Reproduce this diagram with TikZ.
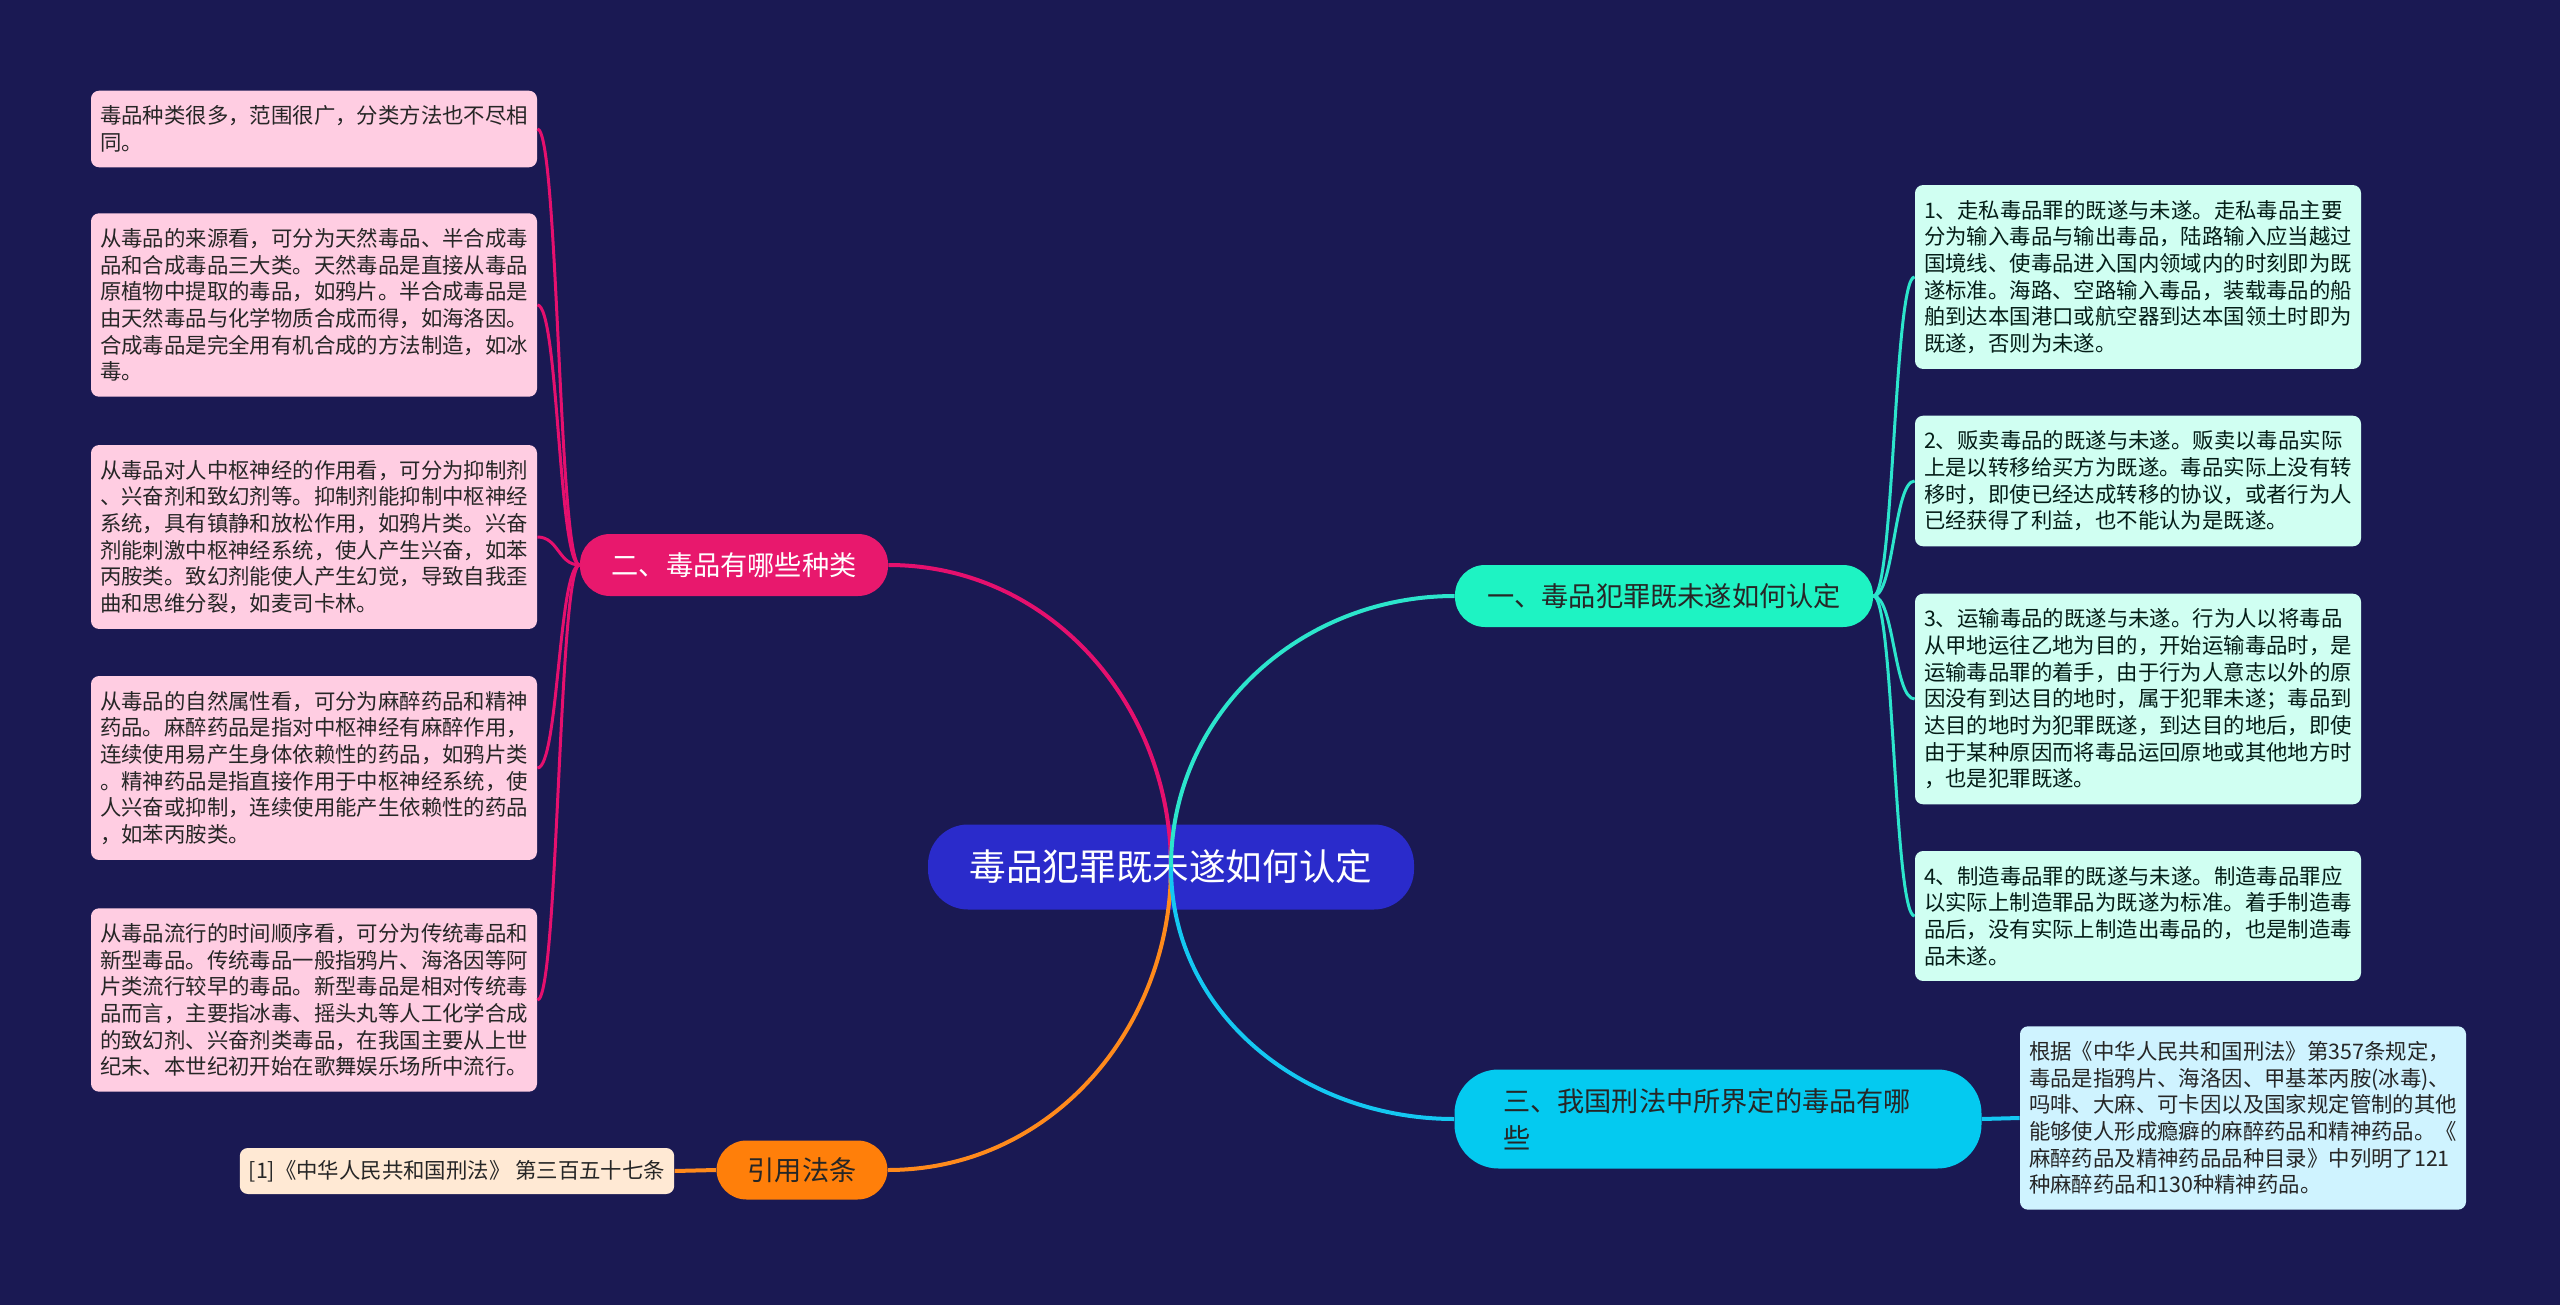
\documentclass[tikz,border=0pt]{standalone}
\usepackage{fontspec}
\setmainfont{Noto Sans CJK SC}
\usepackage{tikz}
\usetikzlibrary{calc, positioning}
\definecolor{mynavy}{HTML}{1A1953}
\definecolor{myroot}{HTML}{2A2BCB}
\definecolor{myteal}{HTML}{1EF3C3}
\definecolor{mypink}{HTML}{E8186D}
\definecolor{mysky}{HTML}{04CAF0}
\definecolor{myorange}{HTML}{FF7F0A}
\definecolor{mypinkleaf}{HTML}{FFCDE2}
\definecolor{mytealleaf}{HTML}{D0FFF2}
\definecolor{myskyleaf}{HTML}{CFF3FF}
\definecolor{myorangeleaf}{HTML}{FFE9D4}
\definecolor{mytealline}{HTML}{2CE5CC}
\definecolor{myskyline}{HTML}{14C8F2}
\definecolor{mypinkline}{HTML}{E5106E}
\definecolor{myorangeline}{HTML}{FF8A1C}
\tikzset{
	rootnode/.style={
			rectangle,
			rounded corners=20pt,
			fill=myroot,
			text=white,
			font=\fontsize{18.3}{22}\selectfont,
			minimum width=243pt,
			minimum height=42.5pt,
			inner sep=0pt
		},
	branchnode/.style={
			rectangle,
			rounded corners=15pt,
			text=black!85,
			font=\fontsize{13.6}{18.75}\selectfont,
			minimum height=31pt,
			inner sep=0pt
		},
	leafnode/.style={
			rectangle,
			rounded corners=4pt,
			text=black!85,
			font=\fontsize{10.7}{13.35}\selectfont,
			text width=214pt,
			align=left,
			inner xsep=4.5pt,
			inner ysep=7.5pt
		},
	pinkleaf/.style={
			leafnode,
			fill=mypinkleaf
		},
	tealleaf/.style={
			leafnode,
			fill=mytealleaf,
			text=black!80!myteal!60!black
		},
	bracketlink/.style={
			to path={
				let \p1=(\tikztostart), \p2=(\tikztotarget) in
				.. controls ({0.5*\x1+0.5*\x2},\y1) and ({0.5*\x1+0.5*\x2},\y2) .. (\tikztotarget)
			}
		},
	leaflink/.style={
			line width=1.5pt
		},
	rootlink/.style={
			line width=2pt
		}
}

\begin{document}
\begin{tikzpicture}[x=0.5pt, y=-0.5pt]
\fill[mynavy] (0,0) rectangle (2560,1305);
\useasboundingbox (0,0) rectangle (2560,1305);

\node[rootnode] (root) at (1171,867) {毒品犯罪既未遂如何认定};

\node[branchnode, fill=myteal, minimum width=209pt] (b1) at (1664,596) {一、毒品犯罪既未遂如何认定};
\node[branchnode, fill=mypink, text=white, minimum width=154pt] (b2) at (734,565) {二、毒品有哪些种类};
\node[branchnode, fill=mysky, minimum width=263.5pt, minimum height=49.5pt, rounded corners=22pt,
	text width=215pt, align=left] (b3) at (1718,1119) {三、我国刑法中所界定的毒品有哪\\些};
\node[branchnode, fill=myorange, minimum width=85.5pt, minimum height=29.5pt] (b4) at (802,1170) {引用法条};

\node[pinkleaf] (l1) at (314,129) {毒品种类很多，范围很广，分类方法也不尽相\\同。};
\node[pinkleaf] (l2) at (314,305) {从毒品的来源看，可分为天然毒品、半合成毒\\品和合成毒品三大类。天然毒品是直接从毒品\\原植物中提取的毒品，如鸦片。半合成毒品是\\由天然毒品与化学物质合成而得，如海洛因。\\合成毒品是完全用有机合成的方法制造，如冰\\毒。};
\node[pinkleaf] (l3) at (314,537) {从毒品对人中枢神经的作用看，可分为抑制剂\\、兴奋剂和致幻剂等。抑制剂能抑制中枢神经\\系统，具有镇静和放松作用，如鸦片类。兴奋\\剂能刺激中枢神经系统，使人产生兴奋，如苯\\丙胺类。致幻剂能使人产生幻觉，导致自我歪\\曲和思维分裂，如麦司卡林。};
\node[pinkleaf] (l4) at (314,768) {从毒品的自然属性看，可分为麻醉药品和精神\\药品。麻醉药品是指对中枢神经有麻醉作用，\\连续使用易产生身体依赖性的药品，如鸦片类\\。精神药品是指直接作用于中枢神经系统，使\\人兴奋或抑制，连续使用能产生依赖性的药品\\，如苯丙胺类。};
\node[pinkleaf] (l5) at (314,1000) {从毒品流行的时间顺序看，可分为传统毒品和\\新型毒品。传统毒品一般指鸦片、海洛因等阿\\片类流行较早的毒品。新型毒品是相对传统毒\\品而言，主要指冰毒、摇头丸等人工化学合成\\的致幻剂、兴奋剂类毒品，在我国主要从上世\\纪末、本世纪初开始在歌舞娱乐场所中流行。};

\node[tealleaf] (r1) at (2138,277) {1、走私毒品罪的既遂与未遂。走私毒品主要\\分为输入毒品与输出毒品，陆路输入应当越过\\国境线、使毒品进入国内领域内的时刻即为既\\遂标准。海路、空路输入毒品，装载毒品的船\\舶到达本国港口或航空器到达本国领土时即为\\既遂，否则为未遂。};
\node[tealleaf] (r2) at (2138,481) {2、贩卖毒品的既遂与未遂。贩卖以毒品实际\\上是以转移给买方为既遂。毒品实际上没有转\\移时，即使已经达成转移的协议，或者行为人\\已经获得了利益，也不能认为是既遂。};
\node[tealleaf] (r3) at (2138,699) {3、运输毒品的既遂与未遂。行为人以将毒品\\从甲地运往乙地为目的，开始运输毒品时，是\\运输毒品罪的着手，由于行为人意志以外的原\\因没有到达目的地时，属于犯罪未遂；毒品到\\达目的地时为犯罪既遂，到达目的地后，即使\\由于某种原因而将毒品运回原地或其他地方时\\，也是犯罪既遂。};
\node[tealleaf] (r4) at (2138,916) {4、制造毒品罪的既遂与未遂。制造毒品罪应\\以实际上制造罪品为既遂为标准。着手制造毒\\品后，没有实际上制造出毒品的，也是制造毒\\品未遂。};

\node[leafnode, fill=myskyleaf] (r5) at (2243,1118) {根据《中华人民共和国刑法》第357条规定，\\毒品是指鸦片、海洛因、甲基苯丙胺(冰毒)、\\吗啡、大麻、可卡因以及国家规定管制的其他\\能够使人形成瘾癖的麻醉药品和精神药品。《\\麻醉药品及精神药品品种目录》中列明了121\\种麻醉药品和130种精神药品。};

\node[leafnode, fill=myorangeleaf, text width=, minimum width=217pt, minimum height=23pt,
	inner ysep=0pt] (c1) at (457,1171) {[1]《中华人民共和国刑法》 第三百五十七条};

\draw[rootlink, mypinkline] (root.center) to[out=90, in=0] (b2.east);
\draw[rootlink, mytealline] (root.center) to[out=90, in=180] (b1.west);
\draw[rootlink, myorangeline] (root.center) to[out=-90, in=0] (b4.east);
\draw[rootlink, myskyline] (root.center) to[out=-90, in=180] (b3.west);

\foreach \lf in {l1,l2,l3,l4,l5}
	\draw[leaflink, mypinkline] (b2.west) to[bracketlink] (\lf.east);
\foreach \lf in {r1,r2,r3,r4}
	\draw[leaflink, mytealline] (b1.east) to[bracketlink] (\lf.west);

\draw[rootlink, myskyline] (b3.east) -- (r5.west);
\draw[rootlink, myorangeline] (b4.west) -- (c1.east);
\end{tikzpicture}
\end{document}
